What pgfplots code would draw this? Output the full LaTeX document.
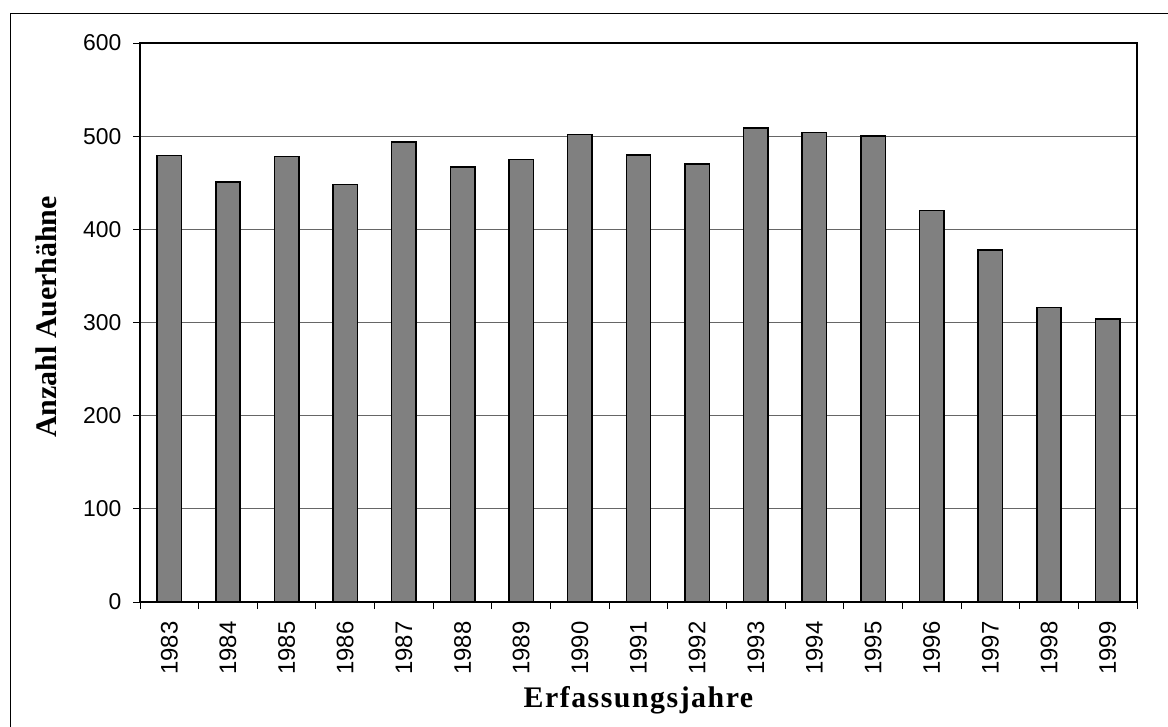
\documentclass[border=0pt]{standalone}
\usepackage{pgfplots}
\pgfplotsset{compat=1.18}
\usepackage{fontspec}
\setmainfont{Liberation Serif}
\newfontfamily\arialf{Liberation Sans}
\begin{document}
\begin{tikzpicture}
\begin{axis}[
  at={(140bp,-602bp)}, anchor=south west,
  width=997bp, height=559bp, scale only axis,
  xmin=-0.5, xmax=16.5, ymin=0, ymax=600,
  axis line style={black, line width=1.2bp},
  /pgf/number format/assume math mode=true,
  ytick={0,100,...,600},
  xtick={-0.5,0.5,...,16.5},
  xticklabels={},
  extra x ticks={0,1,...,16},
  extra x tick labels={1983,1984,1985,1986,1987,1988,1989,1990,1991,1992,1993,1994,1995,1996,1997,1998,1999},
  extra x tick style={major tick length=0pt, grid=none},
  tick align=outside,
  major tick length=7bp,
  tick style={black, line width=1bp},
  xtick pos=bottom, ytick pos=left,
  ymajorgrids,
  grid style={black!60, line width=1bp},
  yticklabel style={font=\arialf\fontsize{23}{23}\selectfont, xshift=-8bp},
  xticklabel style={font=\arialf\fontsize{24}{24}\selectfont, yshift=-16bp, rotate=90, anchor=east},
  xlabel={\addfontfeature{LetterSpace=5}Erfassungsjahre},
  ylabel={Anzahl Auerhähne},
  xlabel style={font=\bfseries\fontsize{30}{30}\selectfont, at={(axis description cs:0.5,-0.188)}, anchor=base},
  ylabel style={font=\bfseries\fontsize{30}{30}\selectfont, at={(axis description cs:-0.0833,0.51)}, anchor=base},
]
\addplot[ybar, bar width=24.4bp, fill=black!50, draw=black, line width=1.5bp]
  coordinates {(0,479) (1,451) (2,478) (3,448) (4,494) (5,467) (6,475) (7,502) (8,480) (9,470) (10,509) (11,504) (12,500) (13,420) (14,378) (15,316) (16,304)};
\end{axis}
\draw[line width=1.3bp] (10.7bp,-727bp) -- (10.7bp,-13.3bp) -- (1168bp,-13.3bp);
\pgfresetboundingbox
\useasboundingbox (0,0) rectangle (1168bp,-727bp);
\end{tikzpicture}
\end{document}
